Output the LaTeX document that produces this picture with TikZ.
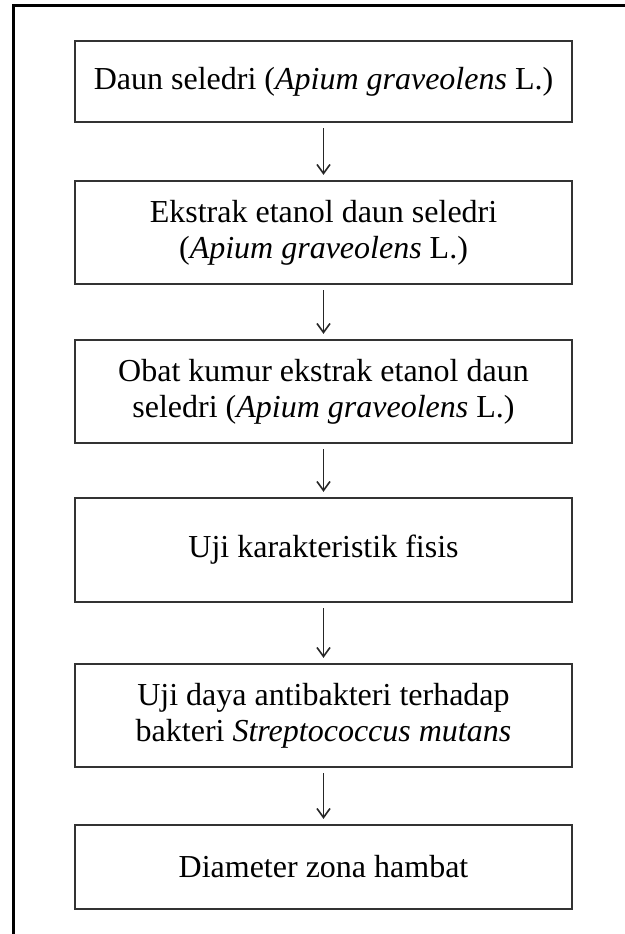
\documentclass[tikz,border=0pt]{standalone}
\usepackage{fontspec}
\setmainfont{Liberation Serif}
\usetikzlibrary{arrows.meta}
\begin{document}
\begin{tikzpicture}[x=1pt,y=-1pt,
  stepbox/.style={draw=black!80, line width=2.3pt, fill=white, minimum width=497pt,
    align=center, inner sep=0pt, font=\fontsize{32}{36}\selectfont},
  flow/.style={line width=1.6pt, black!85, -{Straight Barb[length=9pt,width=13pt,line width=1.6pt]},
    shorten <=5pt, shorten >=5pt}]
\useasboundingbox (0,0) rectangle (624,934);
\fill[white] (0,0) rectangle (624,934);
\draw[line width=3pt, black, line cap=rect] (13,934) -- (13,6) -- (624,6);
\node[stepbox, minimum height=81pt]  (b1) at (323.5,81.5) {Daun seledri (\textit{Apium graveolens} L.)};
\node[stepbox, minimum height=103pt] (b2) at (323.5,232.5) {Ekstrak etanol daun seledri\\(\textit{Apium graveolens} L.)};
\node[stepbox, minimum height=103pt] (b3) at (323.5,391.5) {Obat kumur ekstrak etanol daun\\seledri (\textit{Apium graveolens} L.)};
\node[stepbox, minimum height=104pt] (b4) at (323.5,550) {Uji karakteristik fisis};
\node[stepbox, minimum height=103pt] (b5) at (323.5,715.5) {Uji daya antibakteri terhadap\\bakteri \textit{Streptococcus mutans}};
\node[stepbox, minimum height=84pt]  (b6) at (323.5,867) {Diameter zona hambat};
\draw[flow] (b1) -- (b2);
\draw[flow] (b2) -- (b3);
\draw[flow] (b3) -- (b4);
\draw[flow] (b4) -- (b5);
\draw[flow] (b5) -- (b6);
\end{tikzpicture}
\end{document}
